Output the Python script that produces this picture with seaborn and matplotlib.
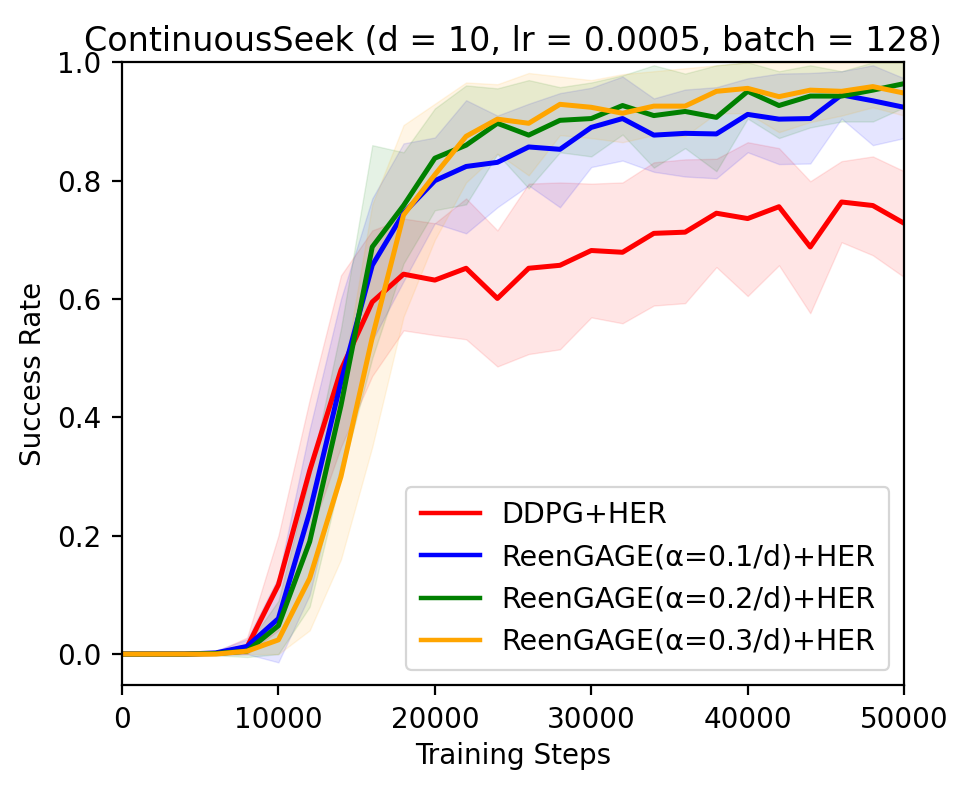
import numpy as np
import pandas as pd
import matplotlib
matplotlib.use("Agg")
import matplotlib.pyplot as plt
import seaborn as sns

steps = list(range(0, 50001, 2000))

labels = ["DDPG+HER", "ReenGAGE(α=0.1/d)+HER", "ReenGAGE(α=0.2/d)+HER", "ReenGAGE(α=0.3/d)+HER"]
colors = ["red", "blue", "green", "orange"]

ddpg = [0, 0, 0, 0.001, 0.012, 0.117, 0.31, 0.48, 0.595, 0.642, 0.632, 0.652, 0.601,
        0.652, 0.657, 0.682, 0.679, 0.711, 0.713, 0.745, 0.736, 0.756, 0.688, 0.764, 0.758, 0.728]
ddpg_lo = [0, 0, 0, 0, 0, 0.04, 0.2, 0.35, 0.47, 0.547, 0.539, 0.532, 0.486,
           0.507, 0.515, 0.569, 0.559, 0.589, 0.593, 0.654, 0.605, 0.657, 0.576, 0.696, 0.674, 0.637]
ddpg_hi = [0, 0, 0, 0.004, 0.028, 0.2, 0.43, 0.64, 0.716, 0.736, 0.728, 0.77, 0.716,
           0.795, 0.797, 0.795, 0.797, 0.831, 0.836, 0.837, 0.865, 0.855, 0.799, 0.833, 0.841, 0.816]

a01 = [0, 0, 0, 0.002, 0.013, 0.06, 0.24, 0.46, 0.657, 0.745, 0.80, 0.824, 0.831,
       0.857, 0.853, 0.890, 0.905, 0.877, 0.880, 0.879, 0.912, 0.904, 0.905, 0.945, 0.935, 0.924]
a01_lo = [0, 0, 0, -0.002, 0.0, -0.014, 0.1, 0.32, 0.53, 0.63, 0.728, 0.711, 0.755,
          0.792, 0.755, 0.823, 0.834, 0.815, 0.807, 0.804, 0.848, 0.828, 0.829, 0.905, 0.86, 0.872]
a01_hi = [0, 0, 0, 0.006, 0.025, 0.13, 0.38, 0.6, 0.77, 0.863, 0.873, 0.936, 0.91,
          0.93, 0.948, 0.957, 0.976, 0.939, 0.954, 0.958, 0.973, 0.981, 0.982, 0.985, 0.995, 0.973]

a02 = [0, 0, 0, 0.001, 0.005, 0.048, 0.19, 0.42, 0.688, 0.758, 0.838, 0.86, 0.897,
       0.877, 0.902, 0.905, 0.927, 0.91, 0.917, 0.907, 0.951, 0.927, 0.943, 0.943, 0.953, 0.964]
a02_lo = [0, 0, 0, -0.002, -0.005, 0.0, 0.08, 0.3, 0.5, 0.66, 0.75, 0.76, 0.845,
          0.787, 0.848, 0.841, 0.878, 0.822, 0.855, 0.816, 0.905, 0.872, 0.89, 0.9, 0.9, 0.924]
a02_hi = [0, 0, 0, 0.004, 0.015, 0.09, 0.3, 0.55, 0.86, 0.848, 0.922, 0.961, 0.956,
          0.97, 0.958, 0.966, 0.978, 0.995, 0.981, 0.995, 1.0, 0.985, 0.995, 0.985, 1.0, 1.0]

a03 = [0, 0, 0, 0.0, 0.005, 0.024, 0.128, 0.3, 0.535, 0.742, 0.81, 0.875, 0.904,
       0.897, 0.929, 0.924, 0.914, 0.926, 0.926, 0.951, 0.956, 0.942, 0.953, 0.951, 0.959, 0.948]
a03_lo = [0, 0, 0, 0, 0, 0.0, 0.04, 0.16, 0.35, 0.57, 0.70, 0.797, 0.846,
          0.809, 0.877, 0.872, 0.865, 0.877, 0.875, 0.914, 0.914, 0.882, 0.899, 0.91, 0.924, 0.91]
a03_hi = [0, 0, 0, 0.002, 0.012, 0.05, 0.2, 0.45, 0.76, 0.894, 0.93, 0.966, 0.963,
          0.982, 0.976, 0.97, 0.98, 0.985, 0.99, 0.995, 1.0, 1.0, 1.0, 1.0, 1.0, 1.0]

means = [ddpg, a01, a02, a03]
lows = [ddpg_lo, a01_lo, a02_lo, a03_lo]
highs = [ddpg_hi, a01_hi, a02_hi, a03_hi]

rows = []
for lab, m in zip(labels, means):
    for s, v in zip(steps, m):
        rows.append({"step": s, "value": v, "method": lab})
df = pd.DataFrame(rows)

plt.rcParams['font.family'] = ['DejaVu Sans']
fig = plt.figure(figsize=(9.68, 7.89), dpi=100)
ax = fig.add_axes([0.126, 0.132, 0.808, 0.789])

for lab, c, lo, hi in zip(labels, colors, lows, highs):
    ax.fill_between(steps, lo, hi, color=c, alpha=0.1)

sns.lineplot(data=df, x="step", y="value", hue="method", hue_order=labels,
             palette=dict(zip(labels, colors)), linewidth=3.6, ax=ax, legend=True)

ax.set_xlim(0, 50000)
ax.set_ylim(-0.052, 1.0)
ax.set_xticks([0, 10000, 20000, 30000, 40000, 50000])
ax.set_yticks([0.0, 0.2, 0.4, 0.6, 0.8, 1.0])
ax.tick_params(labelsize=20, length=7, width=1.6, pad=8)
for sp in ax.spines.values():
    sp.set_linewidth(1.6)
ax.set_xlabel("Training Steps", fontsize=20, labelpad=6)
ax.set_ylabel("Success Rate", fontsize=20, labelpad=7)
ax.set_title("ContinuousSeek (d = 10, lr = 0.0005, batch = 128)", fontsize=24, pad=8)
leg = ax.legend(loc="lower right", fontsize=20.5, handlelength=2.1, borderpad=0.5,
                labelspacing=0.5, handletextpad=0.72, framealpha=0.8, borderaxespad=0.52)
leg.get_frame().set_linewidth(1.6)
for line in leg.get_lines():
    line.set_linewidth(3.2)

fig.savefig("out.png", dpi=100)
